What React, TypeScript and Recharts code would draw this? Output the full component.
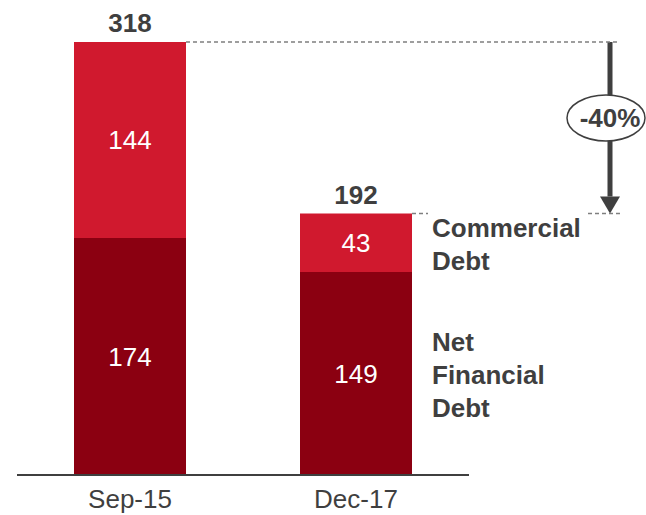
import React from 'react';
import { BarChart, Bar, XAxis, YAxis, LabelList, ReferenceLine, ReferenceArea } from 'recharts';

const periods = ['Sep-15', 'Dec-17'];
const netFinancialDebt = [174, 149];
const commercialDebt = [144, 43];
const totals = [318, 192];
const changeLabel = '-40%';
const commercialName = ['Commercial', 'Debt'];
const netName = ['Net', 'Financial', 'Debt'];

const data = periods.map((p, i) => ({
  period: p,
  net: netFinancialDebt[i],
  commercial: commercialDebt[i],
  total: totals[i],
}));

const FONT = "'Liberation Sans', Arial, Helvetica, sans-serif";
const TEXT = '#3f3f3f';
const DARK = '#8b0011';
const LIGHT = '#d0192e';
const BAR = 112;
const FS = 26;
const CAP = 9.3;
const LINE_H = 33;

const box = (props: any) => {
  const vb = props.viewBox && props.viewBox.width != null ? props.viewBox : props;
  return { x: Number(vb.x), y: Number(vb.y), width: Number(vb.width), height: Number(vb.height) };
};

const makeSegmentLabel = (name: string[]) => (props: any) => {
  const { x, y, width, height } = box(props);
  const cx = x + width / 2;
  const cy = y + height / 2;
  const showName = props.index === periods.length - 1;
  const firstBase = cy - ((name.length - 1) / 2) * LINE_H + CAP + 1.5;
  return (
    <g>
      <text x={cx} y={cy + CAP} textAnchor="middle" fill="#ffffff" fontSize={FS} fontFamily={FONT}>
        {props.value}
      </text>
      {showName &&
        name.map((t, k) => (
          <text key={k} x={x + width + 20} y={firstBase + k * LINE_H} fill={TEXT} fontSize={FS} fontWeight="bold" fontFamily={FONT}>
            {t}
          </text>
        ))}
    </g>
  );
};

const TotalLabel = (props: any) => {
  const { x, y, width } = box(props);
  return (
    <text x={x + width / 2} y={y - 10} textAnchor="middle" fill={TEXT} fontSize={FS} fontWeight="bold" fontFamily={FONT}>
      {props.value}
    </text>
  );
};

const barRight = (x1: number, x2: number, i: number) => {
  const bw = (x2 - x1) / periods.length;
  return x1 + bw * (i + 0.5) + BAR / 2;
};

const DashTop = (props: any) => {
  const { x1, x2, y1 } = props;
  return (
    <line x1={barRight(x1, x2, 0)} y1={y1} x2={x2 + 151} y2={y1} stroke="#7f7f7f" strokeWidth={1.5} strokeDasharray="4 3" />
  );
};

const DashBottom = (props: any) => {
  const { x1, x2, y1 } = props;
  const s = barRight(x1, x2, 1);
  return (
    <g>
      <line x1={s} y1={y1} x2={s + 16} y2={y1} stroke="#7f7f7f" strokeWidth={1.5} strokeDasharray="4 3" />
      <line x1={x2 + 119} y1={y1} x2={x2 + 151} y2={y1} stroke="#7f7f7f" strokeWidth={1.5} strokeDasharray="4 3" />
    </g>
  );
};

const ArrowShape = (props: any) => {
  const { x, y, width, height } = props;
  const ax = x + width + 141;
  const bottom = y + height;
  const head = 17;
  return (
    <g>
      <line x1={ax} y1={y} x2={ax} y2={bottom - head} stroke={TEXT} strokeWidth={5} />
      <polygon points={`${ax - 10},${bottom - head} ${ax + 10},${bottom - head} ${ax},${bottom}`} fill={TEXT} />
      <ellipse cx={ax - 4} cy={y + 76} rx={39} ry={23} fill="#ffffff" stroke={TEXT} strokeWidth={1.5} />
      <text x={ax} y={y + 76 + 9} textAnchor="middle" fill={TEXT} fontSize={FS} fontWeight="bold" fontFamily={FONT}>
        {changeLabel}
      </text>
    </g>
  );
};

const Tick = (props: any) => {
  const { x, y, payload } = props;
  return (
    <text x={x} y={y + 25} textAnchor="middle" fill={TEXT} fontSize={FS} fontFamily={FONT}>
      {payload.value}
    </text>
  );
};

export default function App() {
  return (
    <div style={{ position: 'absolute', left: 0, top: 0, width: 646, height: 515, background: '#fff' }}>
      <BarChart
        width={646}
        height={515}
        data={data}
        margin={{ top: 42, right: 177, bottom: 10, left: 17 }}
        barSize={BAR}
        style={{ overflow: 'visible' }}
      >
        <XAxis
          dataKey="period"
          axisLine={{ stroke: TEXT, strokeWidth: 2 }}
          tickLine={false}
          tick={<Tick />}
          height={30}
          interval={0}
        />
        <YAxis hide domain={[0, 'dataMax']} />
        <Bar dataKey="net" stackId="a" fill={DARK} isAnimationActive={false}>
          <LabelList dataKey="net" content={makeSegmentLabel(netName)} />
        </Bar>
        <Bar dataKey="commercial" stackId="a" fill={LIGHT} isAnimationActive={false}>
          <LabelList dataKey="commercial" content={makeSegmentLabel(commercialName)} />
          <LabelList dataKey="total" content={<TotalLabel />} />
        </Bar>
        <ReferenceLine y={totals[0]} ifOverflow="visible" shape={DashTop} />
        <ReferenceLine y={totals[1]} ifOverflow="visible" shape={DashBottom} />
        <ReferenceArea y1={totals[1]} y2={totals[0]} ifOverflow="visible" shape={ArrowShape} />
      </BarChart>
    </div>
  );
}
